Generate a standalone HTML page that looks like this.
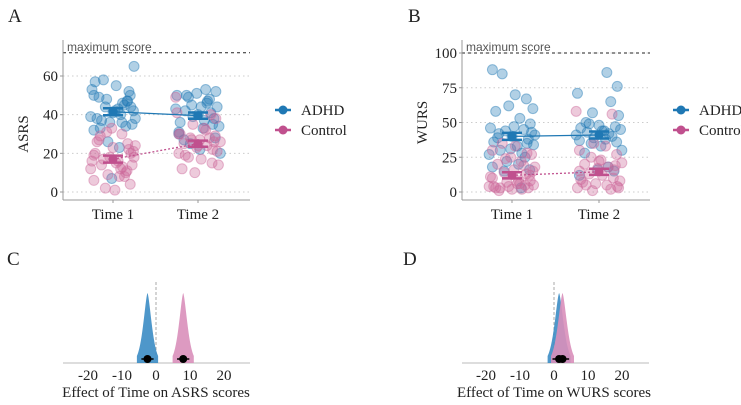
<!DOCTYPE html>
<html><head><meta charset="utf-8">
<style>
body{margin:0;background:#fff;}
svg{display:block;font-family:"Liberation Serif",serif;}
</style></head>
<body>
<svg id="c" width="741" height="405"></svg>
<script>
const categories=["Time 1","Time 2"];
const groups=["ADHD","Control"];
const asrsAdhdT1=[50,58,55,47,42,38,36,40,44,53,45,48,35,33,41,52,57,65,43,37,46,39,34,26,23,32,50,44,42,38,49,36,7,47];
const asrsAdhdT2=[53,52,50,48,45,44,42,40,38,36,34,33,50,47,43,41,39,37,30,28,25,22,20,27,46,51,35,31,49,44];
const asrsCtrlT1=[23,22,20,18,16,14,13,12,10,9,8,6,4,2,1,24,27,30,33,25,19,17,15,11,21,26,18,12,20,16,8,31,14,29];
const asrsCtrlT2=[49,40,35,33,30,29,28,27,26,25,24,23,22,20,18,17,15,14,12,10,32,38,41,28,27,21,19,24,26,30];
const wursAdhdT1=[88,85,70,67,60,58,62,53,49,46,45,44,43,42,40,38,36,34,33,30,28,27,25,22,20,18,16,15,47,41,39,3,31,35];
const wursAdhdT2=[86,76,71,65,57,55,50,48,47,46,45,44,43,42,41,40,39,38,37,36,35,33,30,28,18,16,15,12,49,44];
const wursCtrlT1=[2,3,4,5,6,3,2,4,5,7,8,10,12,14,16,18,20,22,25,28,30,35,33,13,15,3,4,6,8,11,19,24,27,1];
const wursCtrlT2=[58,56,35,33,30,27,25,23,21,20,18,17,16,15,13,12,10,8,7,6,5,4,3,2,1,3,5,22,19,9];
const jitter=[-0.3,-0.15,0.05,0.22,0.32,-0.25,-0.05,0.12,0.28,-0.33,0.18,-0.1,0.3,-0.2,0.0,0.25,-0.28,0.33,0.08,-0.18,0.15,-0.35,0.2,-0.08,0.1,-0.3,0.27,-0.12,0.03,0.35,-0.22,0.14,-0.02,0.23];
const asrsMeans={ADHD:[41.5,39.5],Control:[17,25]};
const asrsSE={ADHD:[1.8,1.6],Control:[1.8,1.6]};
const wursMeans={ADHD:[40,41],Control:[12,14.5]};
const wursSE={ADHD:[2.5,2.5],Control:[2.2,2.2]};
const asrsTicks=[0,20,40,60];
const wursTicks=[0,25,50,75,100];
const effTicks=[-20,-10,0,10,20];
const asrsEffect={ADHD:[-2.5,1.2],Control:[8,1.2]};
const wursEffect={ADHD:[1.5,1.3],Control:[2.5,1.3]};

const NS="http://www.w3.org/2000/svg";
const svg=document.getElementById("c");
const BLUE="#1f78b4",PINK="#cc6699",PINKD="#c0508e";
function el(tag,attrs,parent){const e=document.createElementNS(NS,tag);for(const k in attrs)e.setAttribute(k,attrs[k]);(parent||svg).appendChild(e);return e;}
function txt(s,x,y,attrs){const t=el("text",Object.assign({x:x,y:y,fill:"#222","font-size":15},attrs||{}));t.textContent=s;return t;}

function panel(opt){
  const g=el("g",{});
  
  
  const y=v=>opt.y0+(v)*(opt.y1-opt.y0)/opt.ymax;
  const xc=[opt.xT1,opt.xT2];
  const dx=(opt.xT2-opt.xT1);
  opt.ticks.forEach(t=>{
    const ln=el("line",{x1:opt.xl,x2:opt.xr,y1:y(t),y2:y(t),stroke:"#ccc","stroke-dasharray":"1.5,3"},g);
    
    
    const tl=txt(String(t),opt.xl-5,y(t)+5,{"text-anchor":"end"});
    g.appendChild(tl);
    
    
    el("line",{x1:opt.xl-3,x2:opt.xl,y1:y(t),y2:y(t),stroke:"#999"},g);
  });
  const ml=el("line",{x1:opt.xl,x2:opt.xr,y1:y(opt.maxv),y2:y(opt.maxv),stroke:"#222","stroke-dasharray":"3,3"},g);
  
  
  const mt=txt("maximum score",opt.xl+4,y(opt.maxv)-2,{"font-family":"Liberation Sans, sans-serif","font-size":12,fill:"#555"});
  g.appendChild(mt);
  
  
  el("line",{x1:opt.xl,x2:opt.xl,y1:opt.yTop,y2:opt.axY,stroke:"#999"},g);
  el("line",{x1:opt.xl,x2:opt.xr,y1:opt.axY,y2:opt.axY,stroke:"#999"},g);
  categories.forEach((c,i)=>{
    el("line",{x1:xc[i],x2:xc[i],y1:opt.axY,y2:opt.axY+3,stroke:"#999"},g);
    const t=txt(c,xc[i],opt.axY+19,{"text-anchor":"middle"});g.appendChild(t);
    
    
  });
  const yt=txt(opt.ylab,0,0,{"text-anchor":"middle",transform:`translate(${opt.xl-35},${(opt.y0+opt.y1)/2}) rotate(-90)`});
  g.appendChild(yt);
  
  
  const sets=[[opt.data.ADHD[0],0,BLUE],[opt.data.ADHD[1],1,BLUE],[opt.data.Control[0],0,PINK],[opt.data.Control[1],1,PINK]];
  sets.forEach((s,si)=>{
    s[0].forEach((v,i)=>{
      const j=jitter[(i+si*7)%jitter.length];
      const c=el("circle",{cx:xc[s[1]]+j*dx*0.75,cy:y(v),r:5,fill:s[2],"fill-opacity":0.35,stroke:s[2],"stroke-opacity":0.45},g);
      
      
    });
  });
  groups.forEach(gr=>{
    const col=gr==="ADHD"?BLUE:PINKD;
    const m=opt.means[gr],se=opt.se[gr];
    const l=el("line",{x1:xc[0],y1:y(m[0]),x2:xc[1],y2:y(m[1]),stroke:col,"stroke-width":1.3,"stroke-dasharray":gr==="ADHD"?"none":"2,2"},g);
    
    
    [0,1].forEach(i=>{
      el("line",{x1:xc[i],x2:xc[i],y1:y(m[i]-se[i]),y2:y(m[i]+se[i]),stroke:col,"stroke-width":2},g);
      el("line",{x1:xc[i]-10,x2:xc[i]+10,y1:y(m[i]-se[i]),y2:y(m[i]-se[i]),stroke:col,"stroke-width":2.5},g);
      el("line",{x1:xc[i]-10,x2:xc[i]+10,y1:y(m[i]+se[i]),y2:y(m[i]+se[i]),stroke:col,"stroke-width":2.5},g);
      const p=el("circle",{cx:xc[i],cy:y(m[i]),r:4.5,fill:col},g);
      
      
    });
  });
  groups.forEach((gr,i)=>{
    const col=gr==="ADHD"?BLUE:PINKD;
    const ly=opt.legY+i*20;
    const lg=el("g",{},g);
    
    
    el("line",{x1:opt.legX,x2:opt.legX+16,y1:ly,y2:ly,stroke:col,"stroke-width":2.5},lg);
    el("circle",{cx:opt.legX+8,cy:ly,r:4.5,fill:col},lg);
    const t=txt(gr,opt.legX+26,ly+5,{});lg.appendChild(t);
  });
}
panel({name:"panel-a-asrs",xl:63,xr:250,xT1:113,xT2:198,y0:192,y1:76,ymax:60,yTop:40,axY:200,ticks:asrsTicks,maxv:72,ylab:"ASRS",
  data:{ADHD:[asrsAdhdT1,asrsAdhdT2],Control:[asrsCtrlT1,asrsCtrlT2]},means:asrsMeans,se:asrsSE,legX:275,legY:110});
panel({name:"panel-b-wurs",xl:462,xr:650,xT1:512,xT2:599,y0:192,y1:53,ymax:100,yTop:40,axY:200,ticks:wursTicks,maxv:100,ylab:"WURS",
  data:{ADHD:[wursAdhdT1,wursAdhdT2],Control:[wursCtrlT1,wursCtrlT2]},means:wursMeans,se:wursSE,legX:673,legY:110});

function effect(opt){
  const g=el("g",{});
  
  
  const x=v=>opt.x0+v*opt.k;
  const base=363;
  el("line",{x1:opt.xl,x2:opt.xr,y1:base,y2:base,stroke:"#bbb"},g);
  el("line",{x1:x(0),x2:x(0),y1:282,y2:base,stroke:"#aaa","stroke-dasharray":"3,2"},g);
  effTicks.forEach(t=>{
    const tl=txt(String(t),x(t),base+17,{"text-anchor":"middle"});g.appendChild(tl);
    
    
  });
  const tt=txt(opt.title,x(0),base+34,{"text-anchor":"middle"});g.appendChild(tt);
  
  
  groups.forEach(gr=>{
    const [mu,sd]=opt.eff[gr];
    const col=gr==="ADHD"?"#3b8cc4":"#d98fba";
    let d=`M${x(mu-2.6*sd)},${base}`;
    for(let i=0;i<=60;i++){const v=mu-2.6*sd+5.2*sd*i/60;const z=Math.abs((v-mu)/sd);const h=70*Math.exp(-0.55*Math.pow(z,1.5));d+=` L${x(v)},${base-h}`;}
    d+=` L${x(mu+2.6*sd)},${base} Z`;
    const p=el("path",{d:d,fill:col,"fill-opacity":0.9},g);
    
    
  });
  groups.forEach(gr=>{
    const [mu,sd]=opt.eff[gr];
    el("line",{x1:x(mu-1.5*sd),x2:x(mu+1.5*sd),y1:base-4,y2:base-4,stroke:"#000","stroke-width":1.5},g);
    const c=el("circle",{cx:x(mu),cy:base-4,r:4,fill:"#000"},g);
    
    
  });
}
effect({name:"panel-c-asrs-effect",x0:156,k:3.4,xl:63,xr:250,title:"Effect of Time on ASRS scores",eff:asrsEffect});
effect({name:"panel-d-wurs-effect",x0:554,k:3.4,xl:462,xr:649,title:"Effect of Time on WURS scores",eff:wursEffect});

[["A",8,22],["B",408,22],["C",7,265],["D",403,265]].forEach(a=>{
  const t=txt(a[0],a[1],a[2],{"font-size":19});
  
  
});
</script>
</body></html>
